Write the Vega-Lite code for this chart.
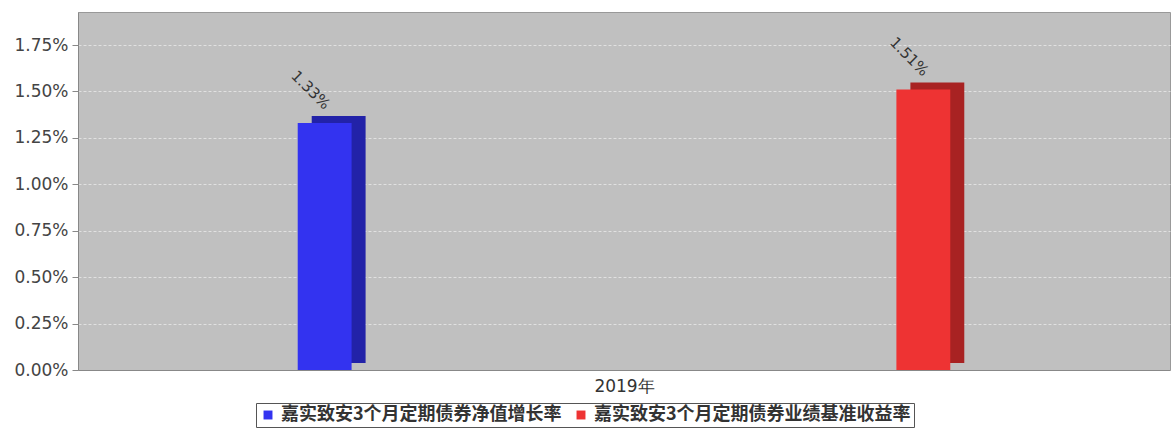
{
  "$schema": "https://vega.github.io/schema/vega-lite/v6.json",
  "autosize": "none",
  "width": 1092,
  "height": 358,
  "padding": {"left": 78, "top": 12, "right": 4, "bottom": 58},
  "background": "white",
  "data": {
    "values": [
      {"year": "2019年", "series": "嘉实致安3个月定期债券净值增长率", "value": 0.0133, "label": "1.33%"},
      {"year": "2019年", "series": "嘉实致安3个月定期债券业绩基准收益率", "value": 0.0151, "label": "1.51%"}
    ]
  },
  "encoding": {
    "x": {
      "field": "series",
      "type": "nominal",
      "sort": ["嘉实致安3个月定期债券净值增长率", "嘉实致安3个月定期债券业绩基准收益率"],
      "scale": {"paddingInner": 0.91, "paddingOuter": 0.367},
      "axis": {
        "title": "2019年",
        "titleFontSize": 17,
        "titleFont": "DejaVu Sans",
        "titleFontWeight": "normal",
        "titleColor": "#333333",
        "titlePadding": 8,
        "labels": false,
        "ticks": false,
        "domainColor": "#888888"
      }
    },
    "y": {
      "field": "value",
      "type": "quantitative",
      "scale": {"domain": [0, 0.01928], "nice": false},
      "axis": {
        "title": null,
        "format": ".2%",
        "values": [0, 0.0025, 0.005, 0.0075, 0.01, 0.0125, 0.015, 0.0175],
        "labelFontSize": 17,
        "labelFont": "DejaVu Sans",
        "labelColor": "#444444",
        "labelPadding": 4,
        "tickSize": 6,
        "tickColor": "#888888",
        "domainColor": "#888888",
        "grid": true,
        "gridColor": "#e4e4e4",
        "gridDash": [3, 2],
        "gridOpacity": 0.9
      }
    }
  },
  "layer": [
    {
      "mark": {"type": "bar", "xOffset": 14, "yOffset": -7},
      "encoding": {
        "color": {
          "condition": {"test": "datum.series === '嘉实致安3个月定期债券净值增长率'", "value": "#2222a8"},
          "value": "#a82222"
        }
      }
    },
    {
      "mark": {"type": "bar"},
      "encoding": {
        "color": {
          "field": "series",
          "type": "nominal",
          "scale": {
            "domain": ["嘉实致安3个月定期债券净值增长率", "嘉实致安3个月定期债券业绩基准收益率"],
            "range": ["#3333f0", "#ee3333"]
          },
          "legend": {
            "title": null,
            "orient": "none",
            "legendX": 178,
            "legendY": 391,
            "direction": "horizontal",
            "symbolType": "square",
            "symbolSize": 80,
            "symbolStrokeWidth": 0,
            "labelFont": "Noto Sans CJK SC",
            "labelFontSize": 18,
            "labelFontWeight": "bold",
            "labelColor": "#333333",
            "labelLimit": 500,
            "columnPadding": 10,
            "symbolOffset": 0,
            "labelOffset": 4,
            "strokeColor": "#555555",
            "padding": 3
          }
        }
      }
    },
    {
      "mark": {
        "type": "text",
        "angle": 45,
        "align": "center",
        "baseline": "middle",
        "xOffset": -14,
        "yOffset": -33,
        "font": "DejaVu Sans",
        "fontSize": 15,
        "color": "#333333"
      },
      "encoding": {
        "text": {"field": "label"}
      }
    }
  ],
  "config": {
    "view": {"fill": "#c0c0c0", "stroke": "#999999"}
  }
}
